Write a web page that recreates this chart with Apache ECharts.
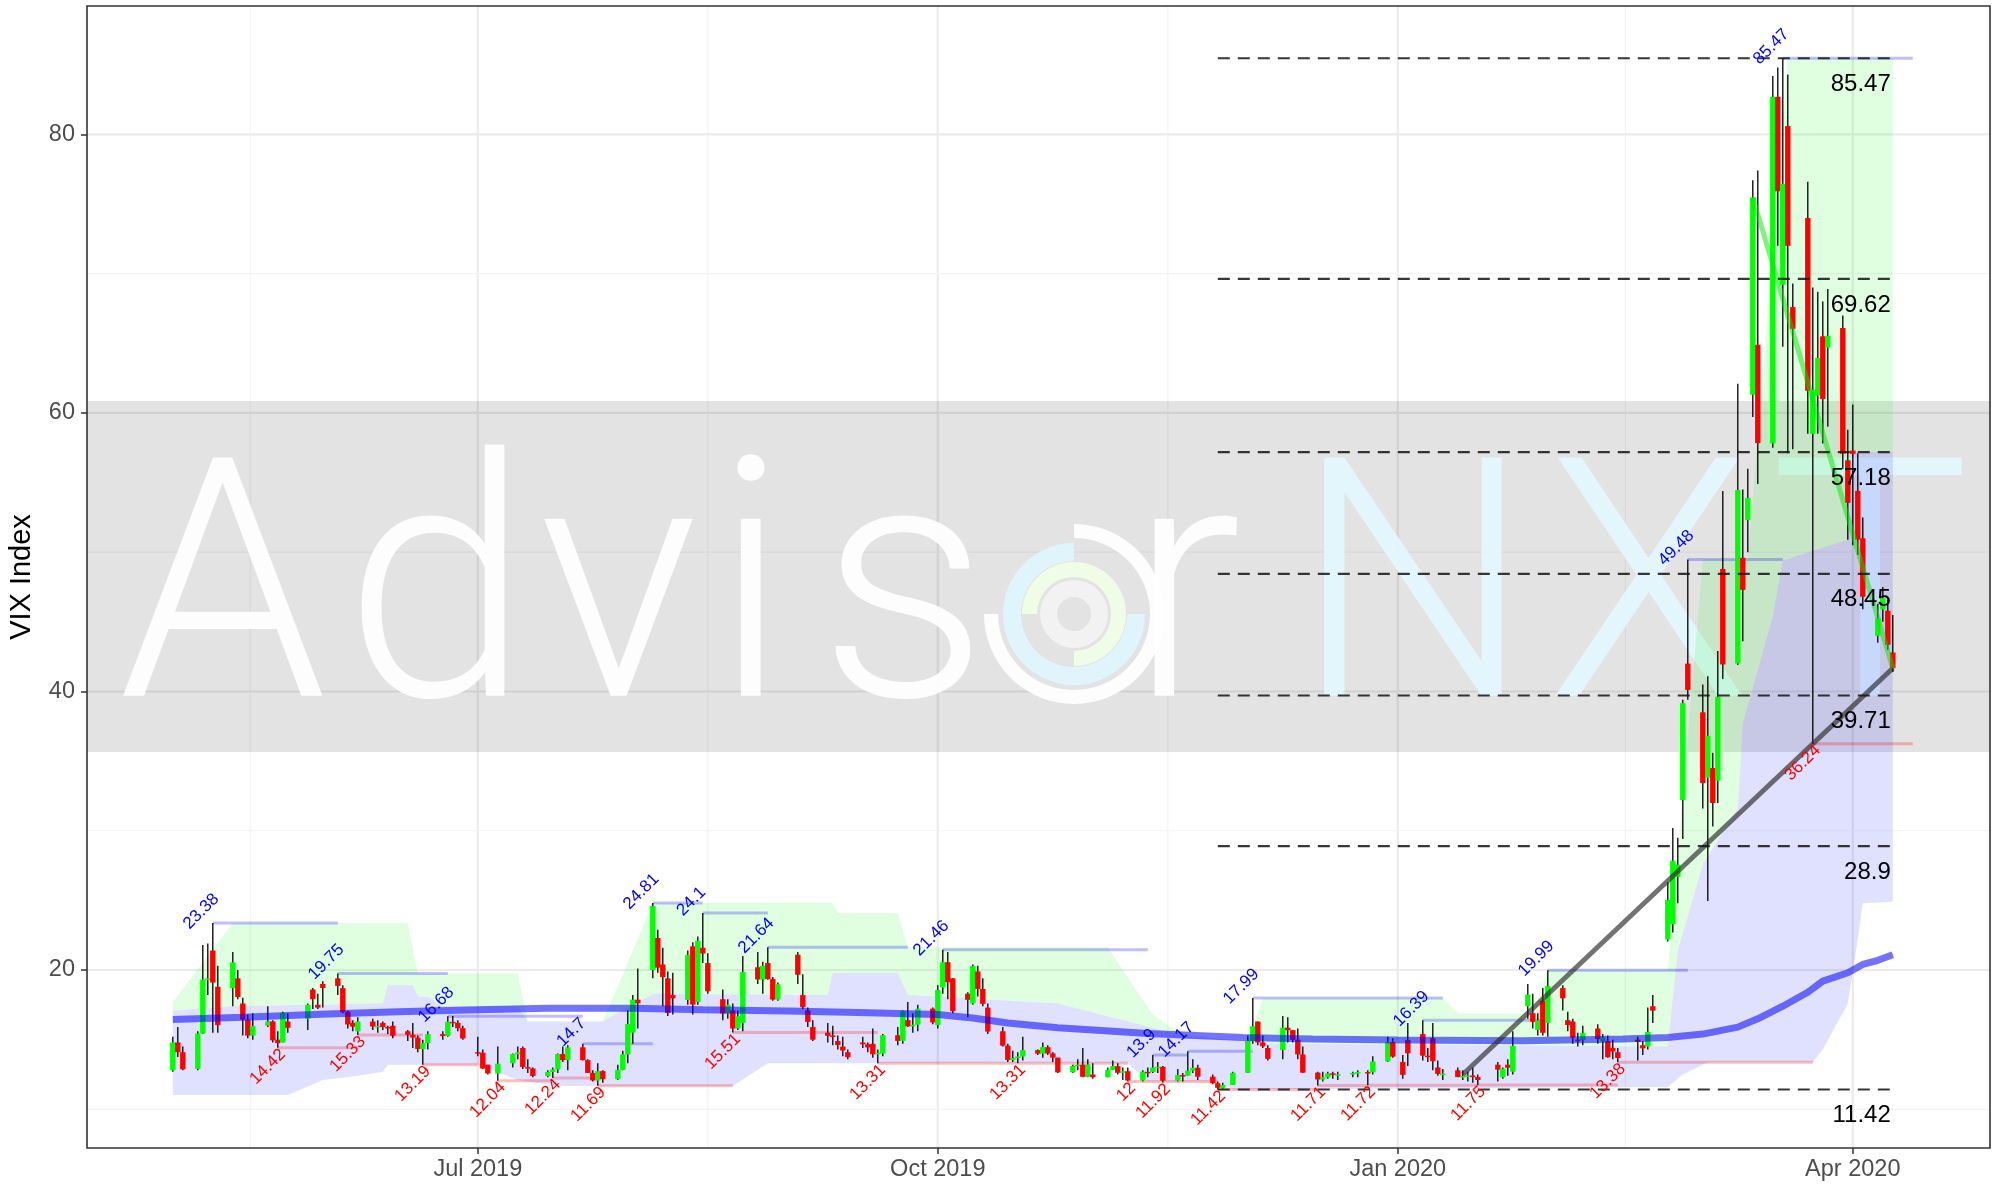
<!DOCTYPE html>
<html>
<head>
<meta charset="utf-8">
<title>VIX Index</title>
<script src="https://cdn.jsdelivr.net/npm/echarts@6.0.0/dist/echarts.min.js"></script>
<style>
  html, body { margin: 0; padding: 0; background: #fff; }
  #chart { width: 2007px; height: 1186px; }
</style>
</head>
<body>
<div id="chart"></div>
<script>
// trading days shown, by month
const tradingDays = {
  '2019-05': [1,2,3,6,7,8,9,10,13,14,15,16,17,20,21,22,23,24,28,29,30,31],
  '2019-06': [3,4,5,6,7,10,11,12,13,14,17,18,19,20,21,24,25,26,27,28],
  '2019-07': [1,2,3,5,8,9,10,11,12,15,16,17,18,19,22,23,24,25,26,29,30,31],
  '2019-08': [1,2,5,6,7,8,9,12,13,14,15,16,19,20,21,22,23,26,27,28,29,30],
  '2019-09': [3,4,5,6,9,10,11,12,13,16,17,18,19,20,23,24,25,26,27,30],
  '2019-10': [1,2,3,4,7,8,9,10,11,14,15,16,17,18,21,22,23,24,25,28,29,30,31],
  '2019-11': [1,4,5,6,7,8,11,12,13,14,15,18,19,20,21,22,25,26,27,29],
  '2019-12': [2,3,4,5,6,9,10,11,12,13,16,17,18,19,20,23,24,26,27,30,31],
  '2020-01': [2,3,6,7,8,9,10,13,14,15,16,17,21,22,23,24,27,28,29,30,31],
  '2020-02': [3,4,5,6,7,10,11,12,13,14,18,19,20,21,24,25,26,27,28],
  '2020-03': [2,3,4,5,6,9,10,11,12,13,16,17,18,19,20,23,24,25,26,27,30,31],
  '2020-04': [1,2,3,6,7,8,9]
};

const opens = [
  12.80,14.80,14.10,12.90,15.44,19.32,21.40,18.80,18.70,19.40,17.60,16.44,15.29,16.00,16.31,15.00,14.80,16.30,16.50,18.60,17.50,19.00,
  19.40,18.70,17.00,16.20,15.60,16.30,15.94,16.20,15.91,16.00,15.60,15.35,15.15,14.33,14.75,15.40,15.26,16.28,16.21,15.82,
  14.10,14.06,13.20,12.57,13.30,13.96,14.40,13.03,12.93,12.39,12.68,12.86,13.97,13.53,14.45,13.53,12.61,12.07,12.74,12.16,12.83,13.94,
  15.50,17.87,20.00,22.30,20.40,19.40,18.20,17.85,21.70,17.70,21.60,20.50,17.90,16.88,17.10,15.80,16.20,20.20,19.32,20.50,19.35,17.88,
  21.10,18.20,17.10,15.90,15.50,15.30,14.90,14.50,14.10,14.80,14.67,14.70,13.95,14.00,15.32,14.91,16.40,15.96,16.07,17.22,
  16.05,18.75,20.56,19.40,18.30,17.60,19.90,18.64,17.30,15.60,14.57,13.54,13.68,13.79,14.25,14.00,14.46,14.01,13.71,12.65,13.11,13.20,12.33,
  12.50,12.30,12.83,13.10,12.62,12.73,12.07,12.69,12.68,13.00,13.05,12.05,12.46,12.41,12.78,12.98,12.34,11.87,11.54,11.75,
  12.62,14.91,16.30,14.80,14.40,14.25,15.86,15.68,15.00,13.94,12.63,12.14,12.29,12.58,12.50,12.51,12.61,12.67,12.65,13.43,14.82,
  13.40,14.97,15.40,13.85,15.10,13.00,12.54,12.80,12.32,12.39,12.42,12.32,13.20,12.30,13.20,12.70,17.40,16.90,15.70,17.80,16.20,
  18.70,16.40,16.30,15.00,14.96,15.80,14.90,14.90,14.40,14.10,15.00,14.60,14.50,17.40,22.20,23.30,26.70,32.20,42.00,
  38.50,33.80,34.50,33.60,48.80,42.00,49.60,52.30,61.30,64.90,57.80,82.70,69.20,80.60,67.60,74.00,58.50,61.25,65.50,64.70,66.10,56.60,
  57.30,54.40,51.00,44.00,45.90,45.80,42.80
];
const highs = [
  15.20,15.90,14.50,15.60,21.80,21.90,23.38,20.30,21.30,20.00,18.00,16.80,16.90,17.40,16.40,15.60,17.00,16.90,17.60,18.70,18.30,19.20,
  19.75,18.90,17.10,16.40,16.60,16.50,16.40,16.30,16.00,16.30,15.70,16.20,15.30,15.00,15.60,15.60,16.68,16.70,16.40,16.00,
  15.20,14.30,13.20,14.50,14.00,14.50,14.50,13.60,13.00,12.80,13.00,14.00,14.50,14.60,14.70,13.60,12.80,13.30,12.80,13.20,14.20,17.10,
  18.20,20.10,24.81,22.90,21.60,19.90,19.80,21.40,22.00,22.40,24.10,21.20,18.60,17.90,17.60,17.10,21.00,21.30,20.60,21.64,19.50,19.10,
  21.30,19.70,17.30,16.40,16.20,16.00,15.30,15.20,14.30,15.20,14.80,15.80,14.30,15.40,15.90,17.10,17.70,16.90,17.50,17.30,
  18.90,21.46,21.30,19.40,18.40,20.40,20.30,19.40,17.60,15.90,14.70,14.20,14.10,15.20,14.30,14.80,14.60,14.10,13.70,13.20,13.60,14.40,13.60,
  13.30,13.00,13.50,13.30,13.00,13.00,12.80,13.00,13.90,13.40,13.10,12.90,12.60,14.17,13.60,13.20,12.50,12.00,11.90,12.70,
  15.30,17.99,16.30,15.30,14.60,16.70,16.60,15.70,15.80,14.50,12.70,12.70,12.70,12.70,12.70,12.70,12.80,12.80,13.80,15.20,15.10,
  13.90,16.20,16.39,14.40,16.20,13.50,12.90,13.00,12.80,12.70,13.00,12.50,13.40,13.00,13.60,15.60,19.00,18.30,16.90,18.70,19.99,
  18.90,17.00,16.50,15.50,16.00,16.10,15.40,15.30,15.00,14.40,15.20,14.90,17.30,18.20,26.30,30.20,29.50,39.40,49.48,
  40.50,41.10,35.60,42.90,54.40,62.10,54.50,56.00,76.70,77.40,84.20,84.80,85.47,84.30,69.30,76.60,69.00,68.70,68.00,68.90,67.00,58.80,
  60.60,57.10,52.50,46.30,47.50,46.60,45.50
];
const lows = [
  12.70,13.75,12.80,12.80,15.40,18.20,15.50,15.50,17.40,17.90,15.30,15.10,15.00,15.90,14.80,14.42,14.80,15.50,15.70,17.20,17.20,17.30,
  18.20,16.90,15.80,15.60,15.33,15.70,15.50,15.70,15.40,15.10,14.90,14.40,14.10,13.19,14.30,15.00,15.20,15.90,15.60,15.00,
  13.80,12.90,12.50,12.04,13.00,13.60,12.90,12.60,12.30,12.30,12.24,12.60,13.40,12.80,13.50,12.60,12.00,11.69,11.90,12.10,12.80,13.30,
  14.70,15.80,19.40,19.80,17.40,16.70,16.80,17.50,16.80,17.50,20.50,18.30,16.40,16.50,15.51,15.70,15.60,19.00,18.30,19.30,17.80,17.80,
  19.00,17.20,15.90,14.90,14.80,14.60,14.30,13.80,13.60,14.40,14.10,13.70,13.31,13.80,14.60,14.70,15.90,15.50,15.60,16.10,
  15.80,18.30,17.90,16.90,16.60,17.50,18.10,17.40,15.40,14.50,13.40,13.40,13.31,13.50,13.90,13.70,13.90,13.40,12.60,12.60,12.80,12.30,12.30,
  12.20,12.30,12.80,12.50,12.10,12.00,12.00,12.30,12.60,12.60,11.92,12.00,12.00,12.40,12.60,12.10,11.80,11.42,11.50,11.75,
  12.60,14.70,14.60,14.40,13.50,13.60,14.80,14.80,13.60,12.60,11.71,12.00,12.20,12.20,12.10,12.30,12.30,11.72,12.50,13.40,13.70,
  12.20,13.10,13.50,13.40,12.80,12.40,12.10,12.30,12.10,12.00,11.90,11.75,12.00,12.20,12.40,12.50,16.50,15.80,15.30,15.30,15.20,
  17.10,15.60,14.70,14.50,14.60,14.70,13.60,13.70,13.60,13.38,13.50,13.90,14.30,16.20,22.05,22.70,24.80,29.40,39.40,
  31.60,24.95,30.30,32.00,40.90,41.90,43.60,50.00,59.70,54.90,57.50,72.00,64.75,57.10,57.40,58.50,36.24,58.50,57.80,59.00,56.00,50.90,
  50.50,49.80,45.90,43.50,45.00,43.00,41.40
];
const closes = [
  14.80,14.10,12.87,15.44,19.32,19.40,19.10,16.04,20.55,18.06,16.44,15.29,15.96,16.31,14.95,14.75,16.92,15.85,17.50,17.90,17.30,18.71,
  18.86,16.97,16.09,15.93,16.30,15.94,15.99,15.91,15.82,15.28,15.35,15.15,14.33,14.75,15.40,15.26,16.28,16.21,15.82,15.08,
  14.06,12.93,12.57,13.28,13.96,14.09,13.03,12.93,12.39,12.68,12.86,13.97,13.53,14.45,13.53,12.61,12.07,12.74,12.16,12.83,13.94,16.12,
  17.87,17.61,24.59,20.17,19.49,16.91,17.97,21.09,17.52,22.10,21.18,18.47,16.88,17.50,15.80,16.68,19.87,19.32,20.31,19.35,17.88,18.98,
  19.66,17.33,16.27,15.00,15.27,15.20,14.61,14.22,13.74,14.67,14.44,13.95,14.05,15.32,14.91,17.05,15.96,16.07,17.22,16.24,
  18.56,20.56,19.12,17.04,17.86,20.28,18.64,17.57,15.58,14.57,13.54,13.68,13.79,14.25,14.00,14.46,14.01,13.71,12.65,13.11,13.20,12.33,13.22,
  12.30,12.83,13.10,12.62,12.73,12.07,12.69,12.68,13.00,13.05,12.05,12.46,12.41,12.78,12.98,12.34,11.87,11.54,11.75,12.62,
  14.91,15.96,14.80,14.52,13.62,15.86,15.68,14.99,13.94,12.63,12.14,12.29,12.58,12.50,12.51,12.61,12.67,12.65,13.43,14.82,13.78,
  12.47,14.02,13.85,13.79,13.45,12.54,12.56,12.32,12.39,12.42,12.32,12.10,12.85,12.91,12.98,14.56,18.23,16.28,16.39,15.49,18.84,
  17.97,16.05,15.15,14.96,15.47,15.04,15.18,13.74,14.15,13.68,14.83,14.38,15.56,17.08,25.03,27.85,27.56,39.16,40.11,
  33.42,36.82,31.99,39.62,41.94,54.46,47.30,53.90,75.47,57.83,82.69,75.91,76.45,72.00,66.04,61.59,61.67,63.95,61.00,65.54,57.08,53.54,
  57.06,50.91,46.80,45.24,46.70,43.35,41.67
];

// 200 day moving average
const ma200 = [
  ['2019-05-01',16.45],['2019-05-15',16.6],['2019-06-01',16.85],['2019-06-15',17.0],['2019-07-01',17.15],
  ['2019-07-15',17.25],['2019-08-01',17.25],['2019-08-15',17.15],['2019-09-01',17.05],['2019-09-15',16.95],
  ['2019-10-01',16.8],['2019-10-08',16.55],['2019-10-15',16.2],['2019-10-25',15.85],['2019-11-12',15.45],
  ['2019-12-01',15.15],['2019-12-15',15.05],['2020-01-01',14.98],['2020-01-26',14.92],['2020-02-15',15.05],
  ['2020-02-24',15.15],['2020-03-02',15.4],['2020-03-09',15.9],['2020-03-13',16.5],['2020-03-18',17.4],
  ['2020-03-23',18.4],['2020-03-26',19.2],['2020-03-31',19.8],['2020-04-03',20.4],['2020-04-06',20.7],['2020-04-09',21.1]
];

// shaded ranges: green band sits on top of the blue band
const greenUpper = [
  ['2019-05-01',17.7],['2019-05-13',23.38],['2019-06-17',23.38],['2019-06-19',19.75],['2019-07-09',19.75],
  ['2019-07-11',16.3],['2019-07-26',16.3],['2019-08-05',24.81],['2019-09-10',24.81],['2019-09-11',24.1],
  ['2019-09-23',24.1],['2019-09-25',21.64],['2019-11-04',21.64],['2019-11-13',16.8],['2019-11-19',15.3],
  ['2019-12-02',14.9],['2019-12-05',17.99],['2020-01-10',17.99],['2020-01-13',16.9],['2020-01-28',16.9],
  ['2020-01-31',19.99],['2020-02-24',19.99],['2020-03-02',49.48],['2020-03-11',49.48],['2020-03-19',85.47],['2020-04-09',85.47]
];
const bandMiddle = [
  ['2019-05-01',17.1],['2019-05-13',17.4],['2019-06-12',17.6],['2019-06-13',18.9],['2019-06-18',18.9],
  ['2019-06-19',18.1],['2019-06-21',18.1],['2019-06-24',17.4],['2019-07-09',17.4],['2019-07-11',16.3],
  ['2019-07-26',16.3],['2019-08-05',18.3],['2019-09-09',18.2],['2019-09-10',19.8],['2019-09-23',19.8],
  ['2019-09-25',18.2],['2019-10-25',17.6],['2019-11-19',15.3],['2019-12-02',14.9],['2019-12-05',14.7],
  ['2020-02-24',14.5],['2020-02-26',21.4],['2020-03-02',27.6],['2020-03-09',31.6],['2020-03-10',37.7],
  ['2020-03-16',45.4],['2020-03-18',49.4],['2020-03-31',50.9],['2020-04-01',57.2],['2020-04-09',57.2]
];
const blueLower = [
  ['2019-05-01',11.03],['2019-05-24',11.03],['2019-05-31',12.1],['2019-06-07',12.4],['2019-06-12',12.7],
  ['2019-06-13',13.2],['2019-07-01',13.2],['2019-07-09',12.1],['2019-07-17',11.67],['2019-08-21',11.67],
  ['2019-08-28',13.3],['2019-11-08',13.3],['2019-11-12',12.0],['2019-11-26',12.0],['2019-11-29',11.42],
  ['2020-02-24',11.6],['2020-02-27',12.5],['2020-03-03',13.38],['2020-03-24',13.38],['2020-03-26',14.3],
  ['2020-03-31',17.6],['2020-04-02',22.2],['2020-04-03',24.8],['2020-04-09',24.9]
];

// swing highs / lows: [date, value], level line [start, end, value]
const swingHighs = [
  ['2019-05-09',23.38],['2019-06-03',19.75],['2019-06-25',16.68],['2019-07-22',14.7],['2019-08-05',24.81],
  ['2019-08-15',24.1],['2019-08-28',21.64],['2019-10-02',21.46],['2019-11-13',13.9],['2019-11-20',14.17],
  ['2019-12-03',17.99],['2020-01-06',16.39],['2020-01-31',19.99],['2020-02-28',49.48],['2020-03-18',85.47]
];
const swingLows = [
  ['2019-05-22',14.42],['2019-06-07',15.33],['2019-06-20',13.19],['2019-07-05',12.04],['2019-07-16',12.24],
  ['2019-07-25',11.69],['2019-08-21',15.51],['2019-09-19',13.31],['2019-10-17',13.31],['2019-11-08',12],
  ['2019-11-15',11.92],['2019-11-26',11.42],['2019-12-16',11.71],['2019-12-26',11.72],['2020-01-17',11.75],
  ['2020-02-14',13.38],['2020-03-24',36.24]
];
const highLevels = [
  ['2019-05-09','2019-06-03',23.38],['2019-06-03','2019-06-25',19.75],['2019-06-25','2019-07-22',16.68],
  ['2019-07-22','2019-08-05',14.7],['2019-08-05','2019-08-15',24.81],['2019-08-15','2019-08-28',24.1],
  ['2019-08-28','2019-09-25',21.64],['2019-10-02','2019-11-12',21.46],['2019-11-13','2019-11-20',13.9],
  ['2019-11-20','2019-12-03',14.17],['2019-12-03','2020-01-10',17.99],['2020-01-06','2020-01-30',16.39],
  ['2020-01-31','2020-02-28',19.99],['2020-02-28','2020-03-18',49.48],['2020-03-18','2020-04-13',85.47]
];
const lowLevels = [
  ['2019-05-22','2019-06-07',14.42],['2019-06-07','2019-06-20',15.33],['2019-06-20','2019-07-01',13.19],
  ['2019-07-05','2019-07-16',12.04],['2019-07-16','2019-07-25',12.24],['2019-07-25','2019-08-21',11.69],
  ['2019-08-21','2019-09-19',15.51],['2019-09-19','2019-11-08',13.31],['2019-11-08','2019-11-26',12],
  ['2019-11-26','2019-12-16',11.42],['2019-12-16','2019-12-26',11.71],['2019-12-26','2020-01-17',11.72],
  ['2020-01-17','2020-02-14',11.75],['2020-02-14','2020-03-24',13.38],['2020-03-24','2020-04-13',36.24]
];

// fibonacci retracement from the 11.42 low to the 85.47 high
const fibLevels = [11.42, 28.9, 39.71, 48.45, 57.18, 69.62, 85.47];
const fibStart = '2019-11-26', fibEnd = '2020-04-09';

const trendGray = [['2020-01-14',12.5],['2020-04-09',41.67]];
const trendGreen = [['2020-03-12',75.47],['2020-04-09',41.67]];

const xBreaks = ['2019-07-01','2019-10-01','2020-01-01','2020-04-01'];
const yBreaks = [20, 40, 60, 80];
const yMinor = [10, 30, 50, 70];

// ---------------------------------------------------------------
const P = s => { const a = s.split('-').map(Number); return new Date(a[0], a[1] - 1, a[2]).getTime(); };
const DAY = 864e5;
const X0 = P('2019-07-01');
const xMin = X0 - 78.16 * DAY, xMax = X0 + 302.44 * DAY;
const yMin = 7.22, yMax = 89.22;
const FONT = '"Liberation Sans", Arial, sans-serif';
const WM_FONT = '300 335px Roboto, "Liberation Sans", sans-serif';
const MONTHS = ['Jan','Feb','Mar','Apr','May','Jun','Jul','Aug','Sep','Oct','Nov','Dec'];

const dates = [];
Object.keys(tradingDays).forEach(m => tradingDays[m].forEach(d => dates.push(m + '-' + String(d).padStart(2, '0'))));
const candles = dates.map((d, i) => [P(d), opens[i], closes[i], lows[i], highs[i]]);

const xBreakT = xBreaks.map(P);
const xMinorT = [P('2019-04-01')].concat(xBreakT).slice(0, 4).map((t, i) => (t + xBreakT[i]) / 2);
const gridRows = []
  .concat(xBreakT.map(t => [t, 20, 1, 1]))
  .concat(xMinorT.map(t => [t, 20, 1, 0]))
  .concat(yBreaks.map(v => [X0, v, 0, 1]))
  .concat(yMinor.map(v => [X0, v, 0, 0]));

function band(upper, lower, fill, z) {
  return {
    type: 'custom', z: z, silent: true,
    data: [[P(upper[0][0]), upper[0][1]]],
    encode: { x: 0, y: 1 },
    renderItem: function (params, api) {
      const pts = upper.map(p => api.coord([P(p[0]), p[1]]))
        .concat(lower.slice().reverse().map(p => api.coord([P(p[0]), p[1]])));
      return { type: 'polygon', shape: { points: pts }, style: { fill: fill } };
    }
  };
}

function levelSeries(rows, color) {
  return {
    type: 'custom', z: 3, silent: true,
    data: rows.map(r => [P(r[0]), r[2], P(r[1])]),
    encode: { x: [0, 2], y: 1 },
    renderItem: function (params, api) {
      const a = api.coord([api.value(0), api.value(1)]);
      const b = api.coord([api.value(2), api.value(1)]);
      return { type: 'line', shape: { x1: a[0], y1: a[1], x2: b[0], y2: b[1] },
        style: { stroke: color, lineWidth: 3 } };
    }
  };
}

function swingLabels(rows, isHigh) {
  return {
    type: 'custom', z: 9, silent: true,
    data: rows.map(r => [P(r[0]), r[1]]),
    encode: { x: 0, y: 1 },
    renderItem: function (params, api) {
      const p = api.coord([api.value(0), api.value(1)]);
      const txt = String(rows[params.dataIndex][1]);
      return {
        type: 'text',
        x: isHigh ? p[0] - 11.5 : p[0] + 5,
        y: isHigh ? p[1] - 11.5 : p[1] + 4,
        rotation: Math.PI / 4,
        style: { text: txt, fill: isHigh ? '#0000ff' : '#ff0000', font: '17px ' + FONT,
          align: isHigh ? 'center' : 'right', verticalAlign: 'middle' }
      };
    }
  };
}

// watermark letters: [char, left x]
const wmLetters = [['A', 118], ['d', 344], ['v', 538], ['i', 713], ['s', 819], ['r', 1129],
  ['N', 1294], ['X', 1546], ['T', 1770]];
const wmY = 612;
const wmGraphics = [
  { type: 'rect', z: 1, silent: true, shape: { x: 87, y: 401, width: 1903, height: 351 }, style: { fill: 'rgba(0,0,0,0.11)' } }
].concat(wmLetters.map((l, i) => ({
  type: 'text', z: 1, silent: true, x: l[1], y: wmY,
  style: { text: l[0], font: WM_FONT, fill: i < 6 ? 'rgba(255,255,255,0.93)' : 'rgba(226,247,252,0.95)',
    verticalAlign: 'middle', align: 'left' }
}))).concat([
  { type: 'sector', z: 1, silent: true, shape: { cx: 1074, cy: 614, r0: 76, r: 90, startAngle: -Math.PI / 2, endAngle: Math.PI }, style: { fill: 'rgba(255,255,255,0.93)' } },
  { type: 'sector', z: 1, silent: true, shape: { cx: 1074, cy: 614, r0: 53, r: 71, startAngle: 0, endAngle: Math.PI * 1.5 }, style: { fill: '#e0f5fb' } },
  { type: 'sector', z: 1, silent: true, shape: { cx: 1074, cy: 614, r0: 37, r: 52, startAngle: Math.PI, endAngle: Math.PI * 2.5 }, style: { fill: '#effde6' } },
  { type: 'circle', z: 1, silent: true, shape: { cx: 1074, cy: 614, r: 34 }, style: { fill: '#f2f2f2' } },
  { type: 'circle', z: 1, silent: true, shape: { cx: 1074, cy: 614, r: 17 }, style: { fill: '#e3e3e3' } }
]);

const option = {
  animation: false,
  backgroundColor: '#ffffff',
  grid: { left: 87, right: 17, top: 6, bottom: 38, containLabel: false },
  xAxis: {
    type: 'value', min: xMin, max: xMax,
    axisLine: { show: false },
    axisTick: { show: true, length: 6, customValues: xBreakT, lineStyle: { color: '#333333', width: 1.5 } },
    axisLabel: { customValues: xBreakT, color: '#4d4d4d', fontSize: 23.5, fontFamily: FONT, margin: 10,
      formatter: v => { const d = new Date(v); return MONTHS[d.getMonth()] + ' ' + d.getFullYear(); } },
    splitLine: { show: false }
  },
  yAxis: {
    type: 'value', min: yMin, max: yMax,
    axisLine: { show: false },
    axisTick: { show: true, length: 6, customValues: yBreaks, lineStyle: { color: '#333333', width: 1.5 } },
    axisLabel: { customValues: yBreaks, color: '#4d4d4d', fontSize: 23.5, fontFamily: FONT, margin: 12 },
    splitLine: { show: false }
  },
  graphic: wmGraphics.concat([
    // y axis title
    { type: 'text', z: 20, silent: true, x: 22, y: 577, rotation: Math.PI / 2,
      style: { text: 'VIX Index', font: '29px ' + FONT, fill: '#000000', align: 'center', verticalAlign: 'middle' } },
    // panel border
    { type: 'rect', z: 20, silent: true, shape: { x: 87, y: 6, width: 1903, height: 1142 },
      style: { fill: 'none', stroke: '#333333', lineWidth: 1.6 } }
  ]),
  series: [
    {
      // grid lines
      type: 'custom', z: 0, silent: true,
      data: gridRows, encode: { x: 0, y: 1 },
      renderItem: function (params, api) {
        const cs = params.coordSys;
        const p = api.coord([api.value(0), api.value(1)]);
        const vertical = api.value(2) === 1, major = api.value(3) === 1;
        const shape = vertical
          ? { x1: p[0], y1: cs.y, x2: p[0], y2: cs.y + cs.height }
          : { x1: cs.x, y1: p[1], x2: cs.x + cs.width, y2: p[1] };
        return { type: 'line', shape: shape, style: { stroke: major ? '#ebebeb' : '#f3f3f3', lineWidth: major ? 2.2 : 1.2 } };
      }
    },
    band(bandMiddle, blueLower, 'rgba(0,0,255,0.12)', 2),
    band(greenUpper, bandMiddle, 'rgba(0,255,0,0.12)', 2),
    levelSeries(highLevels, 'rgba(0,0,255,0.25)'),
    levelSeries(lowLevels, 'rgba(255,0,0,0.25)'),
    {
      // candles
      type: 'custom', z: 4, silent: true,
      data: candles, encode: { x: 0, y: [1, 2, 3, 4] },
      renderItem: function (params, api) {
        const t = api.value(0), o = api.value(1), c = api.value(2), l = api.value(3), h = api.value(4);
        const pl = api.coord([t, l]), ph = api.coord([t, h]);
        const po = api.coord([t, o]), pc = api.coord([t, c]);
        const w = 5.4;
        return { type: 'group', children: [
          { type: 'line', shape: { x1: pl[0], y1: pl[1], x2: ph[0], y2: ph[1] }, style: { stroke: '#000000', lineWidth: 1.3 } },
          { type: 'rect', shape: { x: po[0] - w / 2, y: Math.min(po[1], pc[1]), width: w, height: Math.max(1.5, Math.abs(po[1] - pc[1])) },
            style: { fill: c >= o ? '#00ff00' : '#ff0000' } }
        ] };
      }
    },
    {
      type: 'line', z: 5, silent: true, showSymbol: false,
      data: ma200.map(p => [P(p[0]), p[1]]),
      lineStyle: { color: 'rgba(0,0,255,0.55)', width: 7 }
    },
    {
      type: 'line', z: 6, silent: true, showSymbol: false,
      data: trendGray.map(p => [P(p[0]), p[1]]),
      lineStyle: { color: 'rgba(40,40,40,0.65)', width: 5 }
    },
    {
      type: 'line', z: 6, silent: true, showSymbol: false,
      data: trendGreen.map(p => [P(p[0]), p[1]]),
      lineStyle: { color: 'rgba(0,230,0,0.5)', width: 5 }
    },
    {
      // fibonacci levels
      type: 'custom', z: 7, silent: true,
      data: fibLevels.map(v => [P(fibStart), v, P(fibEnd)]),
      encode: { x: [0, 2], y: 1 },
      renderItem: function (params, api) {
        const a = api.coord([api.value(0), api.value(1)]);
        const b = api.coord([api.value(2), api.value(1)]);
        return { type: 'group', children: [
          { type: 'line', shape: { x1: a[0], y1: a[1], x2: b[0], y2: b[1] },
            style: { stroke: 'rgba(20,20,20,0.85)', lineWidth: 2.2, lineDash: [12, 8] } },
          { type: 'text', x: b[0] - 2, y: b[1] + 26,
            style: { text: String(fibLevels[params.dataIndex]), font: '24px ' + FONT, fill: '#000000', align: 'right', verticalAlign: 'middle' } }
        ] };
      }
    },
    swingLabels(swingHighs, true),
    swingLabels(swingLows, false)
  ]
};

const chart = echarts.init(document.getElementById('chart'), null, { renderer: 'canvas' });
chart.setOption(option);
</script>
</body>
</html>
